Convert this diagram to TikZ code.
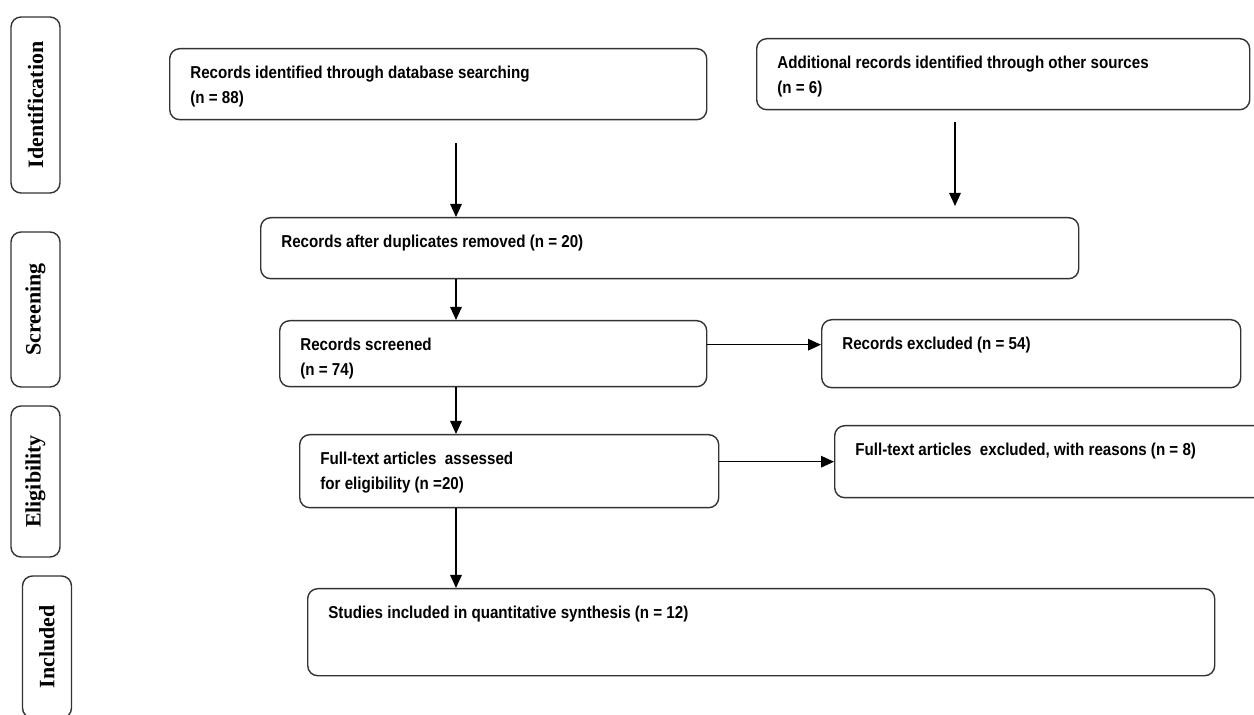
\documentclass[tikz,border=0pt]{standalone}
\usepackage{fontspec}
\setmainfont{Liberation Sans}[FakeStretch=0.88]
\newfontfamily\phasefont{Liberation Serif}
\usetikzlibrary{arrows.meta, positioning}

\begin{document}
\begin{tikzpicture}[
    box/.style={draw=black!80, line width=0.8pt, rounded corners=0.2cm, anchor=north west, inner sep=0pt},
    phase/.style={draw=black!80, line width=0.8pt, rounded corners=0.2cm, rotate=90, minimum height=0.98cm, inner sep=0pt,
        font=\phasefont\fontsize{12.5}{14}\selectfont\bfseries},
    txt/.style={inner sep=0pt, align=left, font=\fontsize{9.8}{14.2}\selectfont\bfseries,
        below right=0.36cm and 0.42cm of #1.north west},
    arr/.style={-{Triangle[length=2.6mm, width=2.3mm]}, line width=0.9pt}
]
    \useasboundingbox (0,0) rectangle (25.08,-14.3);

    % phases on the left
    \node [phase, minimum width=3.52cm] (Ident) at (0.71,-2.10) {Identification};
    \node [phase, minimum width=3.10cm] (Screen) at (0.71,-6.19) {Screening};
    \node [phase, minimum width=3.02cm] (Elig) at (0.71,-9.63) {Eligibility};
    \node [phase, minimum width=2.84cm] (Incl) at (0.94,-12.94) {Included};

    % flow boxes
    \node [box, minimum width=10.74cm, minimum height=1.42cm] (DB) at (3.38,-0.96) {};
    \node [txt=DB] (DBtext) {Records identified through database searching\\(n = 88)};
    \node [box, minimum width=9.86cm, minimum height=1.42cm] (Other) at (15.12,-0.76) {};
    \node [txt=Other] (Othertext) {Additional records identified through other sources\\(n = 6)};
    \node [box, minimum width=16.36cm, minimum height=1.22cm] (Dup) at (5.20,-4.34) {};
    \node [txt=Dup] (Duptext) {Records after duplicates removed (n = 20)};
    \node [box, minimum width=8.54cm, minimum height=1.32cm] (Screened) at (5.58,-6.40) {};
    \node [txt=Screened] (Screenedtext) {Records screened\\(n = 74)};
    \node [box, minimum width=8.38cm, minimum height=1.36cm] (Excl) at (16.42,-6.38) {};
    \node [txt=Excl] (Excltext) {Records excluded (n = 54)};
    \node [box, minimum width=8.38cm, minimum height=1.46cm] (FullText) at (5.98,-8.68) {};
    \node [txt=FullText] (FullTexttext) {Full-text articles\ \ assessed\\for eligibility (n =20)};
    \node [box, minimum width=8.70cm, minimum height=1.44cm] (FTExcl) at (16.68,-8.50) {};
    \node [txt=FTExcl] (FTExcltext) {Full-text articles\ \ excluded, with reasons (n = 8)};
    \node [box, minimum width=18.14cm, minimum height=1.74cm] (Studies) at (6.14,-11.76) {};
    \node [txt=Studies] (Studiestext) {Studies included in quantitative synthesis (n = 12)};

    % arrows
    \coordinate (Spine) at (9.12,0);
    \coordinate (DBout) at (9.12,-2.86);
    \coordinate (OtherOut) at (19.10,-2.44);
    \coordinate (OtherIn) at (19.10,-4.12);
    \draw [arr] (DBout) -- (DBout |- Dup.north);
    \draw [arr] (OtherOut) -- (OtherIn);
    \foreach \a/\b in {Dup/Screened, Screened/FullText, FullText/Studies} {
        \draw [arr] (Spine |- \a.south) -- (Spine |- \b.north);
    }
    \draw [arr] ([yshift=1.8mm]Screened.east) -- ([yshift=1.8mm]Screened.east -| Excl.west);
    \draw [arr] ([yshift=1.9mm]FullText.east) -- ([yshift=1.9mm]FullText.east -| FTExcl.west);
\end{tikzpicture}
\end{document}
